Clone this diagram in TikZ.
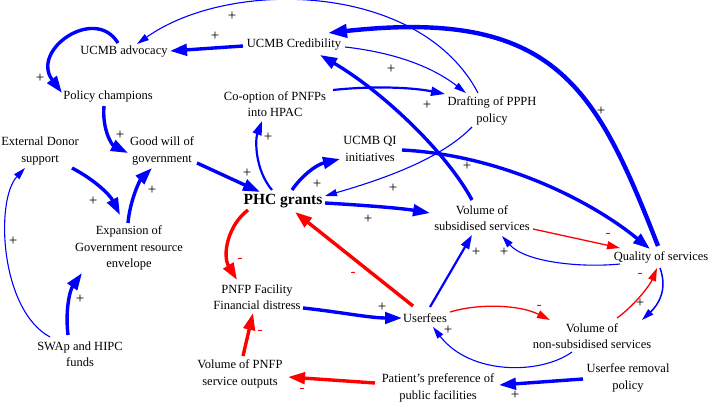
\documentclass[tikz,border=0pt]{standalone}
\usepackage{fontspec}
\setmainfont{Liberation Serif}
\usetikzlibrary{arrows.meta,calc}
\definecolor{lblue}{RGB}{0,0,255}
\definecolor{lred}{RGB}{255,0,0}
\begin{document}
\begin{tikzpicture}[x=1pt,y=-1pt,
  lab/.style={font=\fontsize{12.5}{16.5}\selectfont, align=center, inner sep=0pt},
  plbl/.style={font=\fontsize{15}{15}\selectfont, text=black, inner sep=0pt},
  nlbl/.style={font=\fontsize{15}{15}\selectfont, text=lred, inner sep=0pt},
  bthk/.style={draw=lblue, line width=3.4pt, -{Triangle[length=17pt,width=11.5pt]}},
  bhvy/.style={draw=lblue, line width=4.4pt, -{Triangle[length=19pt,width=13pt]}},
  bmed/.style={draw=lblue, line width=2.2pt, -{Triangle[length=14pt,width=9pt]}},
  bthn/.style={draw=lblue, line width=1.1pt, -{Triangle[length=12pt,width=7pt]}},
  rthk/.style={draw=lred, line width=3.4pt, -{Triangle[length=17pt,width=11.5pt]}},
  rthn/.style={draw=lred, line width=1.3pt, -{Triangle[length=13pt,width=8pt]}}
]
\useasboundingbox (0,0) rectangle (709,404);
\fill[white] (0,0) rectangle (709,404);

% nodes
\node[lab] (adv) at (124,52) {UCMB advocacy};
\node[lab] (pc) at (108,97) {Policy champions};
\node[lab] (eds) at (40,151) {External Donor\\support};
\node[lab] (gw) at (162,151) {Good will of\\government};
\node[lab] (exp) at (129,248) {Expansion of\\Government resource\\envelope};
\node[lab] (swap) at (80,354) {SWAp and HIPC\\funds};
\node[lab] (cred) at (294,45) {UCMB Credibility};
\node[lab] (coop) at (275,104) {Co-option of PNFPs\\into HPAC};
\node[lab] (draft) at (492,111) {Drafting of PPPH\\policy};
\node[lab] (qi) at (370,149) {UCMB QI\\initiatives};
\node[lab, font=\bfseries\fontsize{15.5}{18}\selectfont] (phc) at (283,201) {PHC grants};
\node[lab] (vsub) at (482,218) {Volume of\\subsidised services};
\node[lab] (qual) at (661,257) {Quality of services};
\node[lab] (pnfp) at (257,297) {PNFP Facility\\Financial distress};
\node[lab] (uf) at (425,318) {Userfees};
\node[lab] (vnon) at (592,336) {Volume of\\non-subsidised services};
\node[lab] (vpnfp) at (240,374) {Volume of PNFP\\service outputs};
\node[lab] (pref) at (438,388) {Patient's preference of\\public facilities};
\node[lab] (ufr) at (628,378) {Userfee removal\\policy};

% blue connectors
\draw[bthk] ($(cred)+(-51,1)$) -- ($(adv)+(46,-1)$);
\draw[bthn] ($(draft)+(-14,-18)$) .. controls (420,-18) and (230,-22) .. ($(adv)+(13,-8)$);
\draw[bthk] ($(adv)+(-6,-9)$) .. controls (95,5) and (30,50) .. ($(pc)+(-46,-4)$);
\draw[bthk] ($(pc)+(-4,9)$) .. controls (102,130) and (112,145) .. ($(gw)+(-34,2)$);
\draw[bthk] ($(eds)+(32,17)$) .. controls (95,180) and (110,195) .. ($(exp)+(-9,-33)$);
\draw[bthk] ($(exp)+(-1,-25)$) .. controls (130,200) and (140,180) .. ($(gw)+(-10,17)$);
\draw[bthn] ($(swap)+(-30,-17)$) .. controls (0,310) and (-5,200) .. ($(eds)+(-15,17)$);
\draw[bthk] ($(swap)+(-12,-19)$) .. controls (65,310) and (70,290) .. ($(exp)+(-47,25)$);
\draw[bthk] ($(gw)+(35,12)$) -- ($(phc)+(-23,-9)$);
\draw[bmed] ($(phc)+(-11,-11)$) .. controls (255,170) and (255,140) .. ($(coop)+(-13,17)$);
\draw[bmed] ($(coop)+(58,-14)$) .. controls (370,86) and (410,87) .. ($(draft)+(-47,-17)$);
\draw[bthn] ($(cred)+(51,2)$) .. controls (390,52) and (430,65) .. ($(draft)+(-26,-18)$);
\draw[bthn] ($(draft)+(-20,16)$) .. controls (440,160) and (380,180) .. ($(phc)+(42,-5)$);
\draw[bthk] ($(phc)+(9,-11)$) .. controls (300,178) and (315,165) .. ($(qi)+(-30,10)$);
\draw[bthk] ($(phc)+(42,2)$) .. controls (360,205) and (400,208) .. ($(vsub)+(-52,-5)$);
\draw[bthk] ($(qi)+(32,1)$) .. controls (500,155) and (590,200) .. ($(qual)+(-11,-8)$);
\draw[bhvy] ($(qual)+(-3,-11)$) .. controls (596,87) and (555,8) .. ($(cred)+(34,-12)$);
\draw[bthk] ($(vsub)+(-10,-18)$) .. controls (445,150) and (380,90) .. ($(cred)+(26,10)$);
\draw[bthn] ($(qual)+(-41,7)$) .. controls (580,268) and (525,262) .. ($(vsub)+(20,18)$);
\draw[bmed] ($(uf)+(5,-11)$) -- ($(vsub)+(-10,17)$);
\draw[bthn, line width=1.5pt] ($(qual)+(-1,11)$) .. controls (668,290) and (658,305) .. ($(vnon)+(50,-16)$);
\draw[bthn] ($(vnon)+(-20,16)$) .. controls (540,375) and (470,375) .. ($(uf)+(8,9)$);
\draw[bthk] ($(pnfp)+(46,11)$) .. controls (340,312) and (370,318) .. ($(uf)+(-23,0)$);
\draw[bthk] ($(ufr)+(-45,1)$) -- ($(pref)+(61,-3)$);

% red connectors
\draw[rthk] ($(phc)+(-35,9)$) .. controls (228,225) and (222,255) .. ($(pnfp)+(-20,-17)$);
\draw[rthk] ($(uf)+(-12,-12)$) -- ($(phc)+(12,11)$);
\draw[rthn] ($(vsub)+(51,11)$) -- ($(qual)+(-41,-9)$);
\draw[rthn] ($(uf)+(25,-6)$) .. controls (480,303) and (520,305) .. ($(vnon)+(-42,-16)$);
\draw[rthn] ($(vnon)+(25,-18)$) .. controls (635,305) and (650,285) .. ($(qual)+(-4,11)$);
\draw[rthk] ($(vpnfp)+(3,-18)$) -- ($(pnfp)+(-4,16)$);
\draw[rthk] ($(pref)+(-63,-5)$) -- ($(vpnfp)+(48,3)$);

% polarity labels
\node[plbl] (p1) at (215,36) {+};
\node[plbl] (p2) at (232,16) {+};
\node[plbl] (p3) at (40,78) {+};
\node[plbl] (p4) at (120,135) {+};
\node[plbl] (p5) at (93,201) {+};
\node[plbl] (p6) at (152,190) {+};
\node[plbl] (p7) at (13,241) {+};
\node[plbl] (p8) at (80,299) {+};
\node[plbl] (p9) at (247,173) {+};
\node[plbl] (p10) at (268,137) {+};
\node[plbl] (p11) at (427,105) {+};
\node[plbl] (p12) at (391,69) {+};
\node[plbl] (p13) at (317,184) {+};
\node[plbl] (p14) at (393,188) {+};
\node[plbl] (p15) at (368,219) {+};
\node[plbl] (p16) at (467,166) {+};
\node[plbl] (p17) at (601,111) {+};
\node[plbl] (p18) at (476,252) {+};
\node[plbl] (p19) at (504,252) {+};
\node[plbl] (p20) at (640,303) {+};
\node[plbl] (p21) at (448,330) {+};
\node[plbl] (p22) at (382,307) {+};
\node[plbl] (p23) at (515,395) {+};
\node[nlbl] (n1) at (240,260) {-};
\node[nlbl] (n2) at (353,274) {-};
\node[nlbl] (n3) at (608,235) {-};
\node[nlbl] (n4) at (539,307) {-};
\node[nlbl] (n5) at (640,275) {-};
\node[nlbl] (n6) at (260,332) {-};
\node[nlbl] (n7) at (302,390) {-};
\end{tikzpicture}
\end{document}
